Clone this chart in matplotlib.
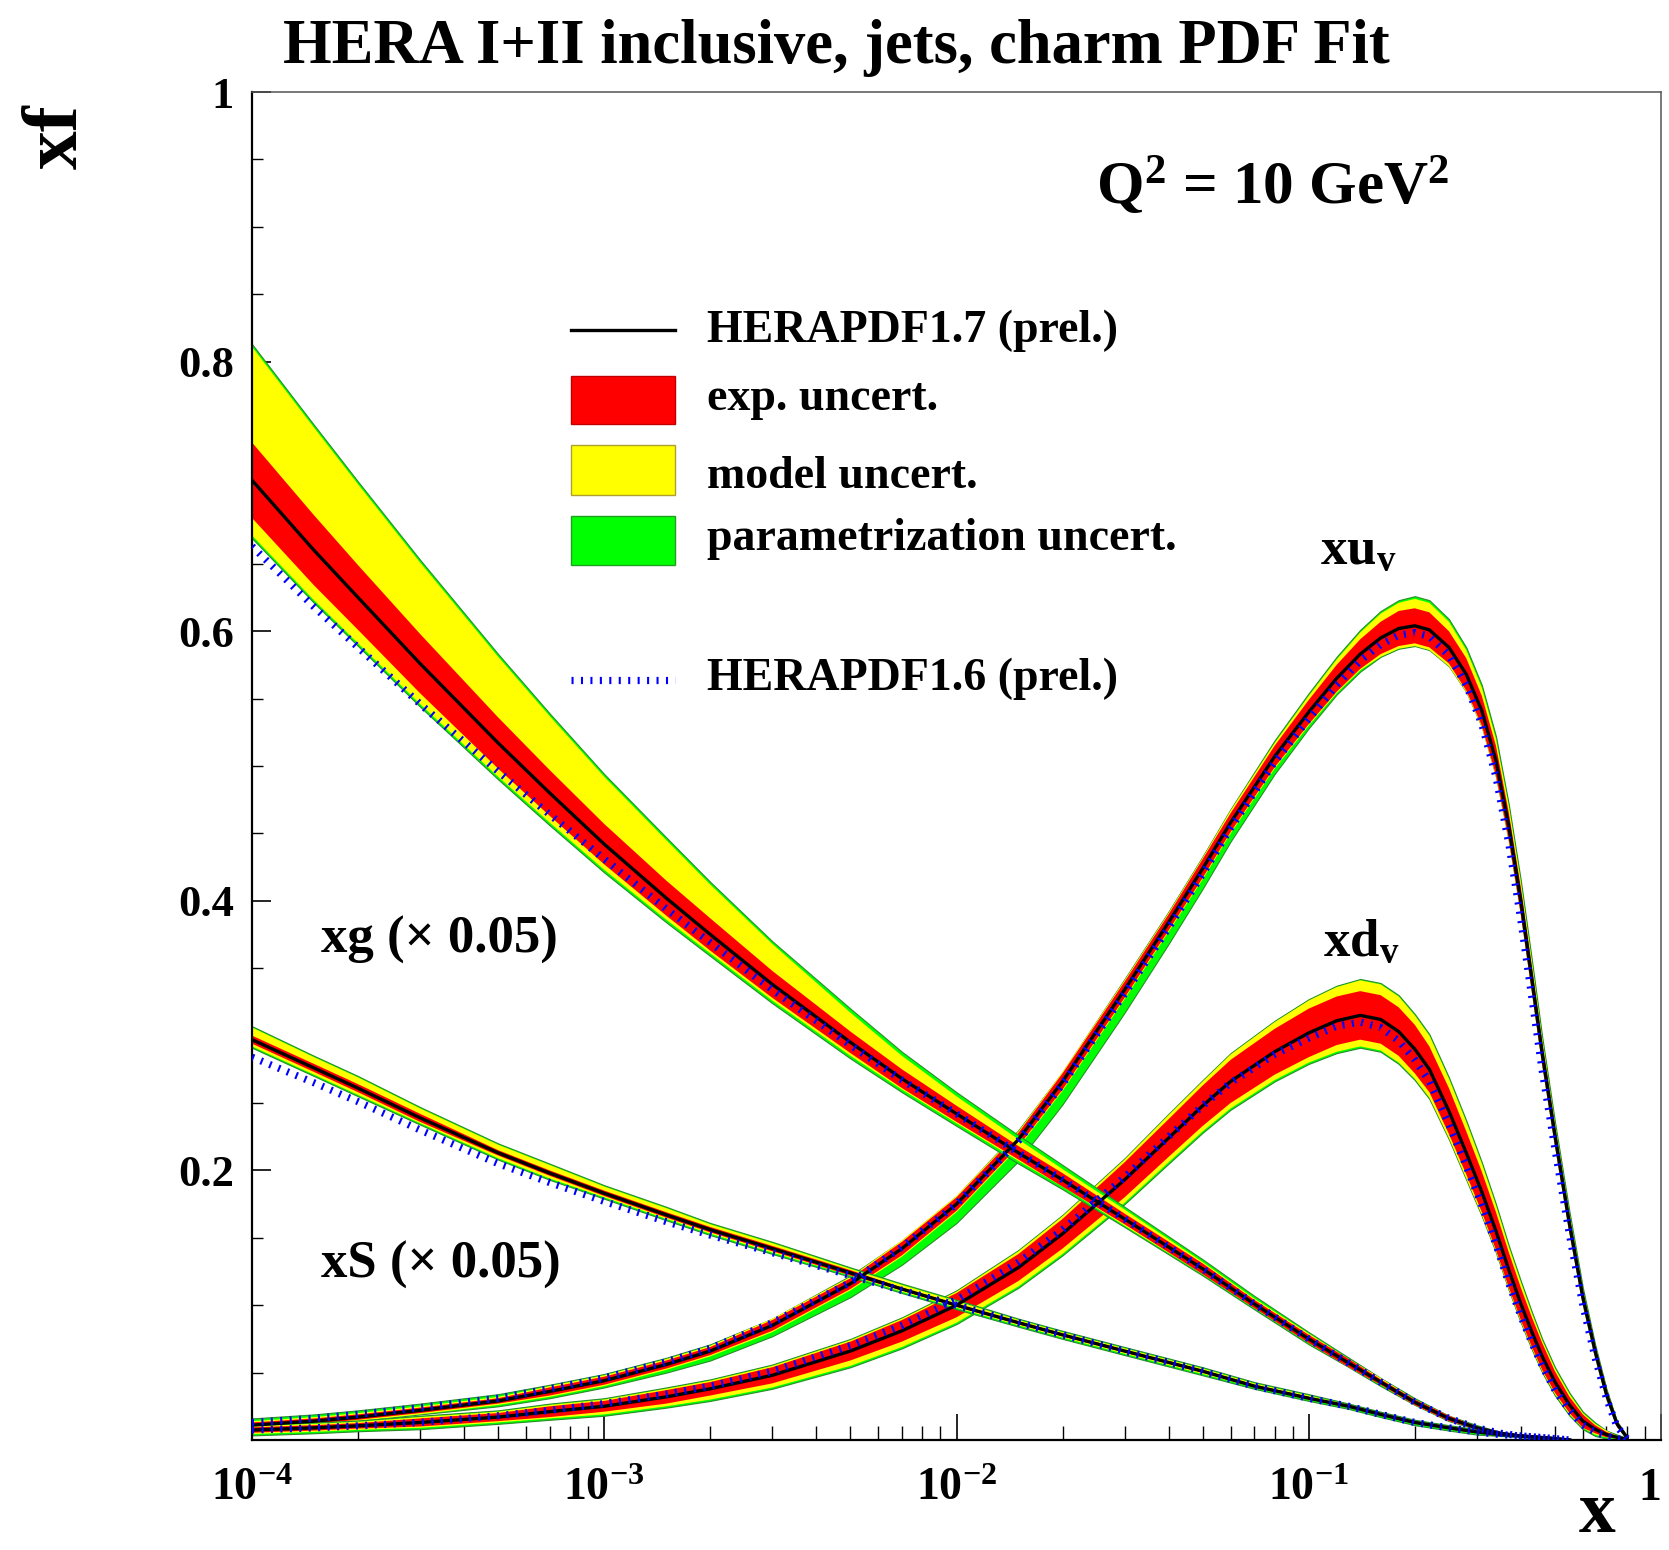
import numpy as np
import matplotlib
matplotlib.use('Agg')
import matplotlib.pyplot as plt
from matplotlib.patches import Rectangle
from matplotlib.lines import Line2D
from matplotlib.ticker import FixedLocator, FixedFormatter, NullFormatter

plt.rcParams['font.family'] = ['Liberation Serif', 'DejaVu Serif']
plt.rcParams['font.weight'] = 'bold'
plt.rcParams['mathtext.default'] = 'regular'
plt.rcParams['lines.scale_dashes'] = False

# x grids (Q^2 = 10 GeV^2)
x_sea = [1e-4, 1.5e-4, 2e-4, 3e-4, 5e-4, 7e-4, 1e-3, 1.5e-3, 2e-3, 3e-3, 5e-3, 7e-3,
         0.01, 0.015, 0.02, 0.03, 0.05, 0.07, 0.1, 0.13, 0.16, 0.2, 0.25, 0.3,
         0.35, 0.4, 0.45, 0.5, 0.55]
x_val = [1e-4, 1.5e-4, 2e-4, 3e-4, 5e-4, 7e-4, 1e-3, 1.5e-3, 2e-3, 3e-3, 5e-3, 7e-3,
         0.01, 0.015, 0.02, 0.03, 0.04, 0.05, 0.06, 0.08,
         0.1, 0.12, 0.14, 0.16, 0.18, 0.2, 0.22, 0.25,
         0.28, 0.31, 0.34, 0.37, 0.4, 0.43, 0.46, 0.5,
         0.55, 0.6, 0.65, 0.7, 0.75, 0.8]

# xg (x 0.05)
xg_cen = [0.712, 0.660, 0.625, 0.576, 0.517, 0.480, 0.442, 0.402, 0.375, 0.338, 0.295, 0.268,
          0.242, 0.213, 0.193, 0.164, 0.127, 0.101, 0.075, 0.057, 0.043, 0.028, 0.016, 0.009,
          0.005, 0.003, 0.002, 0.001, 0]
xg_exp = [0.028, 0.026, 0.024, 0.022, 0.019, 0.017, 0.015, 0.013, 0.012, 0.010, 0.008, 0.007,
          0.006, 0.005, 0.005, 0.004, 0.004, 0.003, 0.003, 0.003, 0.002, 0.002, 0.002, 0.001,
          0.001, 0.001, 0.001, 0.001, 0]
xg_mod_up = [0.099, 0.091, 0.084, 0.075, 0.064, 0.057, 0.050, 0.043, 0.037, 0.030, 0.022, 0.017,
             0.013, 0.010, 0.008, 0.007, 0.005, 0.004, 0.004, 0.003, 0.003, 0.002, 0.002, 0.001,
             0.001, 0.001, 0.001, 0.001, 0]
xg_mod_dn = [0.041, 0.037, 0.034, 0.030, 0.025, 0.022, 0.019, 0.016, 0.014, 0.012, 0.010, 0.008,
             0.007, 0.006, 0.005, 0.005, 0.004, 0.003, 0.003, 0.003, 0.002, 0.002, 0.002, 0.001,
             0.001, 0.001, 0.001, 0.001, 0]
xg_par_up = [0.101, 0.093, 0.086, 0.077, 0.066, 0.059, 0.052, 0.045, 0.039, 0.032, 0.025, 0.020,
             0.016, 0.013, 0.011, 0.009, 0.007, 0.006, 0.005, 0.004, 0.003, 0.003, 0.002, 0.002,
             0.001, 0.001, 0.001, 0.001, 0]
xg_par_dn = [0.043, 0.039, 0.036, 0.032, 0.027, 0.024, 0.021, 0.018, 0.016, 0.014, 0.012, 0.010,
             0.009, 0.008, 0.007, 0.006, 0.005, 0.004, 0.004, 0.003, 0.003, 0.002, 0.002, 0.001,
             0.001, 0.001, 0.001, 0.001, 0]
xg_h16 = [0.663, 0.618, 0.588, 0.546, 0.496, 0.464, 0.431, 0.394, 0.369, 0.334, 0.293, 0.267,
          0.242, 0.213, 0.193, 0.164, 0.127, 0.101, 0.075, 0.057, 0.043, 0.028, 0.016, 0.009,
          0.005, 0.003, 0.002, 0.001, 0]

# xS (x 0.05)
xs_cen = [0.297, 0.276, 0.261, 0.239, 0.213, 0.198, 0.183, 0.167, 0.156, 0.142, 0.124, 0.112,
          0.100, 0.087, 0.078, 0.066, 0.051, 0.040, 0.031, 0.025, 0.019, 0.013, 0.009, 0.006,
          0.004, 0.003, 0.002, 0.001, 0]
xs_exp = [0.003, 0.003, 0.003, 0.003, 0.002, 0.002, 0.002, 0.002, 0.002, 0.002, 0.002, 0.001,
          0.001, 0.001, 0.001, 0.001, 0.001, 0.001, 0.001, 0.001, 0.001, 0.001, 0.001, 0.001,
          0.001, 0, 0, 0, 0]
xs_mod_up = [0.009, 0.008, 0.008, 0.007, 0.006, 0.006, 0.005, 0.005, 0.004, 0.004, 0.003, 0.003,
             0.003, 0.002, 0.002, 0.002, 0.002, 0.002, 0.002, 0.001, 0.001, 0.001, 0.001, 0.001,
             0.001, 0, 0, 0, 0]
xs_mod_dn = [0.005, 0.005, 0.005, 0.004, 0.004, 0.004, 0.003, 0.003, 0.003, 0.003, 0.002, 0.002,
             0.002, 0.002, 0.002, 0.002, 0.002, 0.001, 0.001, 0.001, 0.001, 0.001, 0.001, 0.001,
             0.001, 0, 0, 0, 0]
xs_par_up = [0.010, 0.009, 0.009, 0.008, 0.007, 0.007, 0.006, 0.006, 0.005, 0.005, 0.004, 0.004,
             0.004, 0.003, 0.003, 0.003, 0.003, 0.003, 0.003, 0.002, 0.002, 0.002, 0.002, 0.002,
             0.001, 0.001, 0, 0, 0]
xs_par_dn = [0.006, 0.006, 0.006, 0.005, 0.005, 0.005, 0.004, 0.004, 0.004, 0.004, 0.003, 0.003,
             0.003, 0.003, 0.003, 0.003, 0.003, 0.002, 0.002, 0.002, 0.002, 0.002, 0.002, 0.002,
             0.001, 0.001, 0, 0, 0]
xs_h16 = [0.284, 0.265, 0.251, 0.230, 0.205, 0.191, 0.177, 0.162, 0.152, 0.139, 0.122, 0.111,
          0.100, 0.087, 0.078, 0.066, 0.051, 0.040, 0.031, 0.025, 0.019, 0.013, 0.009, 0.006,
          0.004, 0.003, 0.002, 0.001, 0]

# xu_v
xu_cen = [0.011, 0.014, 0.017, 0.022, 0.029, 0.036, 0.044, 0.056, 0.066, 0.085, 0.116, 0.142,
          0.175, 0.223, 0.266, 0.334, 0.384, 0.424, 0.458, 0.507,
          0.540, 0.565, 0.583, 0.595, 0.602, 0.604, 0.601, 0.588,
          0.568, 0.541, 0.504, 0.455, 0.400, 0.342, 0.287, 0.226,
          0.160, 0.106, 0.066, 0.034, 0.012, 0.002]
xu_exp = [0.002, 0.002, 0.002, 0.002, 0.002, 0.003, 0.003, 0.003, 0.003, 0.004, 0.004, 0.005,
          0.005, 0.005, 0.006, 0.006, 0.006, 0.007, 0.007, 0.008,
          0.009, 0.010, 0.011, 0.012, 0.013, 0.013, 0.013, 0.012,
          0.012, 0.011, 0.011, 0.010, 0.010, 0.009, 0.008, 0.007,
          0.006, 0.005, 0.004, 0.003, 0.002, 0.001]
xu_mod_up = [0.003, 0.003, 0.003, 0.003, 0.003, 0.004, 0.004, 0.004, 0.004, 0.005, 0.005, 0.006,
             0.006, 0.006, 0.007, 0.007, 0.007, 0.008, 0.009, 0.010,
             0.012, 0.014, 0.016, 0.018, 0.019, 0.020, 0.020, 0.019,
             0.018, 0.017, 0.016, 0.015, 0.014, 0.013, 0.011, 0.009,
             0.008, 0.006, 0.005, 0.004, 0.002, 0.001]
xu_mod_dn = [0.003, 0.003, 0.003, 0.003, 0.003, 0.004, 0.004, 0.004, 0.004, 0.005, 0.005, 0.006,
             0.006, 0.006, 0.007, 0.007, 0.007, 0.008, 0.008, 0.009,
             0.010, 0.011, 0.012, 0.014, 0.015, 0.015, 0.015, 0.014,
             0.013, 0.012, 0.012, 0.011, 0.010, 0.010, 0.009, 0.008,
             0.007, 0.006, 0.005, 0.004, 0.002, 0.001]
xu_par_up = [0.005, 0.005, 0.005, 0.005, 0.005, 0.005, 0.005, 0.005, 0.005, 0.005, 0.006, 0.006,
             0.006, 0.007, 0.007, 0.008, 0.008, 0.009, 0.010, 0.012,
             0.014, 0.016, 0.018, 0.020, 0.021, 0.022, 0.022, 0.021,
             0.020, 0.019, 0.018, 0.016, 0.015, 0.014, 0.012, 0.010,
             0.009, 0.007, 0.005, 0.004, 0.002, 0.001]
xu_par_dn = [0.003, 0.003, 0.003, 0.003, 0.004, 0.005, 0.005, 0.006, 0.007, 0.008, 0.010, 0.012,
             0.014, 0.016, 0.017, 0.017, 0.016, 0.015, 0.014, 0.013,
             0.012, 0.012, 0.013, 0.014, 0.015, 0.015, 0.015, 0.014,
             0.013, 0.012, 0.012, 0.011, 0.010, 0.010, 0.009, 0.008,
             0.007, 0.006, 0.005, 0.004, 0.002, 0.001]
xu_h16 = [0.013, 0.016, 0.019, 0.024, 0.031, 0.038, 0.046, 0.058, 0.068, 0.087, 0.117, 0.143,
          0.175, 0.222, 0.264, 0.331, 0.380, 0.420, 0.454, 0.503,
          0.535, 0.560, 0.578, 0.590, 0.597, 0.599, 0.596, 0.582,
          0.560, 0.531, 0.492, 0.442, 0.386, 0.328, 0.274, 0.216,
          0.152, 0.100, 0.061, 0.031, 0.010, 0.001]

# xd_v
xd_cen = [0.0074, 0.009, 0.0105, 0.013, 0.017, 0.021, 0.025, 0.032, 0.038, 0.048, 0.066, 0.081,
          0.100, 0.128, 0.153, 0.193, 0.224, 0.248, 0.266, 0.288,
          0.302, 0.311, 0.315, 0.312, 0.303, 0.290, 0.275, 0.244,
          0.213, 0.184, 0.155, 0.126, 0.101, 0.080, 0.062, 0.043,
          0.026, 0.014, 0.008, 0.004, 0.002, 0.0005]
xd_exp = [0.002, 0.002, 0.002, 0.003, 0.003, 0.004, 0.004, 0.005, 0.005, 0.006, 0.007, 0.008,
          0.009, 0.010, 0.011, 0.013, 0.014, 0.015, 0.016, 0.017,
          0.018, 0.018, 0.018, 0.018, 0.018, 0.018, 0.017, 0.017,
          0.016, 0.015, 0.014, 0.013, 0.012, 0.011, 0.010, 0.008,
          0.006, 0.005, 0.003, 0.002, 0.001, 0.0005]
xd_mod_up = [0.003, 0.003, 0.003, 0.004, 0.004, 0.005, 0.005, 0.006, 0.006, 0.007, 0.008, 0.009,
             0.010, 0.012, 0.013, 0.015, 0.017, 0.018, 0.020, 0.022,
             0.024, 0.025, 0.026, 0.026, 0.026, 0.025, 0.025, 0.024,
             0.023, 0.021, 0.019, 0.017, 0.016, 0.014, 0.012, 0.010,
             0.008, 0.006, 0.004, 0.003, 0.001, 0.0005]
xd_mod_dn = [0.003, 0.003, 0.003, 0.004, 0.004, 0.005, 0.006, 0.007, 0.008, 0.009, 0.011, 0.012,
             0.013, 0.014, 0.015, 0.017, 0.018, 0.019, 0.020, 0.021,
             0.022, 0.023, 0.023, 0.023, 0.023, 0.022, 0.021, 0.020,
             0.019, 0.017, 0.015, 0.014, 0.013, 0.012, 0.011, 0.009,
             0.007, 0.005, 0.004, 0.002, 0.001, 0.0005]
xd_par_up = [0.004, 0.004, 0.004, 0.005, 0.005, 0.006, 0.006, 0.007, 0.007, 0.008, 0.009, 0.010,
             0.011, 0.013, 0.014, 0.016, 0.018, 0.019, 0.021, 0.023,
             0.025, 0.026, 0.027, 0.027, 0.027, 0.026, 0.026, 0.025,
             0.024, 0.022, 0.020, 0.018, 0.017, 0.015, 0.013, 0.011,
             0.009, 0.007, 0.005, 0.003, 0.002, 0.001]
xd_par_dn = [0.004, 0.004, 0.004, 0.005, 0.005, 0.006, 0.007, 0.008, 0.009, 0.010, 0.012, 0.013,
             0.014, 0.015, 0.016, 0.018, 0.019, 0.020, 0.021, 0.022,
             0.023, 0.024, 0.024, 0.024, 0.024, 0.023, 0.022, 0.021,
             0.020, 0.018, 0.016, 0.015, 0.014, 0.013, 0.012, 0.010,
             0.008, 0.006, 0.005, 0.003, 0.002, 0.001]
xd_h16 = [0.0074, 0.009, 0.0105, 0.013, 0.018, 0.022, 0.027, 0.034, 0.040, 0.051, 0.070, 0.085,
          0.104, 0.132, 0.156, 0.195, 0.225, 0.248, 0.265, 0.286,
          0.298, 0.307, 0.310, 0.306, 0.296, 0.282, 0.266, 0.234,
          0.203, 0.174, 0.145, 0.116, 0.092, 0.072, 0.055, 0.037,
          0.022, 0.011, 0.006, 0.003, 0.001, 0.0]

x_ticks = [1e-4, 1e-3, 1e-2, 1e-1, 1]
x_tick_labels = ['10$^{\\mathregular{-4}}$', '10$^{\\mathregular{-3}}$', '10$^{\\mathregular{-2}}$',
                 '10$^{\\mathregular{-1}}$', '1']
y_ticks = [0.2, 0.4, 0.6, 0.8, 1.0]
y_tick_labels = ['0.2', '0.4', '0.6', '0.8', '1']

legend_labels = ['HERAPDF1.7 (prel.)', 'exp. uncert.', 'model uncert.',
                 'parametrization uncert.', 'HERAPDF1.6 (prel.)']

RED, YELLOW, GREEN, BLUE = '#ff0000', '#ffff00', '#00ff00', '#0000ff'
W, H = 1669, 1550


def fx(px):
    return px / W


def fy(py):
    return 1 - py / H


fig = plt.figure(figsize=(W / 100, H / 100), dpi=100)
ax = fig.add_axes([fx(252), fy(1440), (1661 - 252) / W, (1440 - 92) / H])
ax.set_xscale('log')


def draw_pdf(xs, cen, exp, mod_up, mod_dn, par_up, par_dn):
    cen = np.array(cen)
    ax.fill_between(xs, cen - np.array(par_dn), cen + np.array(par_up),
                    facecolor=GREEN, edgecolor='#2a8c2a', lw=0.8, zorder=2)
    ax.fill_between(xs, cen - np.array(mod_dn), cen + np.array(mod_up),
                    facecolor=YELLOW, lw=0, zorder=2)
    ax.fill_between(xs, cen - np.array(exp), cen + np.array(exp),
                    facecolor=RED, lw=0, zorder=2)
    ax.plot(xs, cen, color='black', lw=2.4, zorder=3)


draw_pdf(x_val, xu_cen, xu_exp, xu_mod_up, xu_mod_dn, xu_par_up, xu_par_dn)
draw_pdf(x_val, xd_cen, xd_exp, xd_mod_up, xd_mod_dn, xd_par_up, xd_par_dn)
draw_pdf(x_sea, xs_cen, xs_exp, xs_mod_up, xs_mod_dn, xs_par_up, xs_par_dn)
draw_pdf(x_sea, xg_cen, xg_exp, xg_mod_up, xg_mod_dn, xg_par_up, xg_par_dn)

dotted = dict(color=BLUE, lw=5.2, linestyle=(0, (1.5, 5.3)), dash_capstyle='butt')
for xs, old in [(x_val, xu_h16), (x_val, xd_h16), (x_sea, xs_h16), (x_sea, xg_h16)]:
    ax.plot(xs, old, zorder=4, **dotted)

ax.set_xlim(1e-4, 1)
ax.set_ylim(0, 1)

ax.xaxis.set_major_locator(FixedLocator(x_ticks))
ax.xaxis.set_major_formatter(FixedFormatter(x_tick_labels))
ax.xaxis.set_minor_locator(FixedLocator([k * 10.0 ** d for d in range(-4, 0) for k in range(2, 10)]))
ax.xaxis.set_minor_formatter(NullFormatter())
ax.yaxis.set_major_locator(FixedLocator(y_ticks))
ax.yaxis.set_major_formatter(FixedFormatter(y_tick_labels))
ax.yaxis.set_minor_locator(FixedLocator([0.05, 0.1, 0.15, 0.25, 0.3, 0.35, 0.45, 0.5, 0.55,
                                         0.65, 0.7, 0.75, 0.85, 0.9, 0.95]))

ax.tick_params(axis='x', which='major', direction='in', length=19, width=1.2,
               labelsize=33, pad=20, top=False)
ax.tick_params(axis='x', which='minor', direction='in', length=10, width=1.0, top=False)
ax.tick_params(axis='y', which='major', direction='in', length=14, width=1.2,
               labelsize=32, pad=13, right=False)
ax.tick_params(axis='y', which='minor', direction='in', length=8, width=1.0, right=False)
for lab in ax.get_xticklabels() + ax.get_yticklabels():
    lab.set_fontweight('bold')
# the "1" at the right edge is kept inside the picture
ax.xaxis.get_major_ticks()[-1].label1.set_horizontalalignment('right')

for side in ['left', 'bottom']:
    ax.spines[side].set_linewidth(1.6)
for side in ['top', 'right']:
    ax.spines[side].set_linewidth(1.1)
    ax.spines[side].set_color('#555555')

# titles and labels
fig.text(fx(836), fy(63), 'HERA I+II inclusive, jets, charm PDF Fit',
         fontsize=45, ha='center', va='baseline')
fig.text(fx(58), fy(137), 'xf', fontsize=56, rotation=90, ha='center', va='center')
fig.text(fx(1597), fy(1532), 'x', fontsize=53, ha='center', va='baseline')
fig.text(fx(1096), fy(204), 'Q$^{\\mathregular{2}}$ = 10 GeV$^{\\mathregular{2}}$',
         fontsize=44, ha='left', va='baseline')

fig.text(fx(321), fy(953), 'xg (\u00d7 0.05)', fontsize=38, ha='left', va='baseline')
fig.text(fx(321), fy(1278), 'xS (\u00d7 0.05)', fontsize=38, ha='left', va='baseline')
fig.text(fx(1320), fy(564), 'xu$_{\\mathregular{v}}$', fontsize=38, ha='left', va='baseline')
fig.text(fx(1323), fy(956), 'xd$_{\\mathregular{v}}$', fontsize=38, ha='left', va='baseline')

# legend drawn by hand
lx0, lx1 = 571, 675
fig.add_artist(Line2D([fx(lx0), fx(lx1)], [fy(330), fy(330)], transform=fig.transFigure,
                      color='black', lw=2.4))
boxes = [(376, 424, RED, '#c00000'), (445, 495, YELLOW, '#b0a030'), (516, 565, GREEN, '#20a020')]
for top, bot, fc, ec in boxes:
    fig.add_artist(Rectangle((fx(lx0), fy(bot)), (lx1 - lx0) / W, (bot - top) / H,
                             transform=fig.transFigure, facecolor=fc, edgecolor=ec, lw=1))
fig.add_artist(Line2D([fx(lx0), fx(lx1)], [fy(680), fy(680)], transform=fig.transFigure,
                      **dotted))
for lab, base in zip(legend_labels, [342, 410, 488, 550, 690]):
    fig.text(fx(707), fy(base), lab, fontsize=33, ha='left', va='baseline')

fig.savefig('out.png', dpi=100, facecolor='white')
